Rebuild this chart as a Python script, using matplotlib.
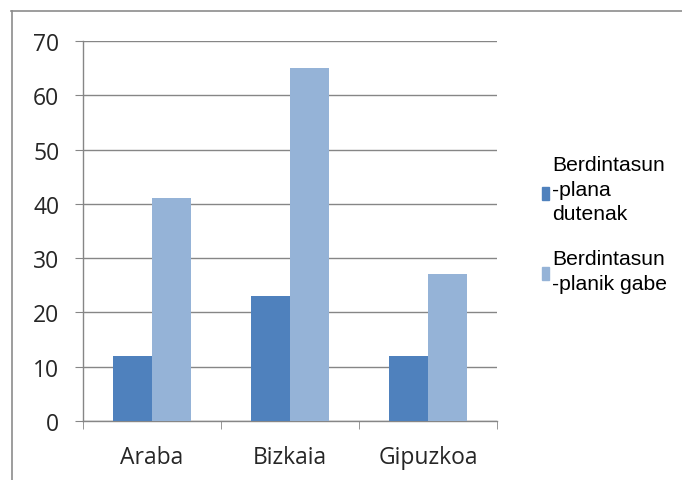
import matplotlib
matplotlib.use("Agg")
import matplotlib.pyplot as plt
from matplotlib.patches import Rectangle
from matplotlib.lines import Line2D
import numpy as np

categories = ["Araba", "Bizkaia", "Gipuzkoa"]
with_plan = [12, 23, 12]
without_plan = [41, 65, 27]
series_labels = ["Berdintasun\n-plana\ndutenak", "Berdintasun\n-planik gabe"]
yticks = [0, 10, 20, 30, 40, 50, 60, 70]

dark = "#4F81BD"
light = "#95B3D7"
axis_grey = "#868686"

fig = plt.figure(figsize=(6.82, 4.81), dpi=100)
fig.patch.set_facecolor("white")
ax = fig.add_axes([83 / 682, 1 - 422 / 481, (497 - 83) / 682, (422 - 42) / 481])

x = np.arange(len(categories))
w = 0.28
ax.bar(x - w / 2, with_plan, width=w, color=dark, zorder=3)
ax.bar(x + w / 2, without_plan, width=w, color=light, zorder=3)

ax.set_xlim(-0.5, len(categories) - 0.5)
ax.set_ylim(0, 70)
ax.set_yticks(yticks)
ax.set_xticks(x)
ax.set_xticklabels(categories)
ax.set_xticks(np.arange(len(categories) + 1) - 0.5, minor=True)

ax.grid(axis="y", color=axis_grey, linewidth=1.0, zorder=0)
for side in ("top", "right"):
    ax.spines[side].set_visible(False)
for side in ("left", "bottom"):
    ax.spines[side].set_color(axis_grey)
    ax.spines[side].set_linewidth(1.0)

ax.tick_params(axis="y", which="major", length=6, color=axis_grey, pad=11,
               labelsize=16.5, labelcolor="#262626")
ax.tick_params(axis="x", which="major", length=0, pad=17,
               labelsize=16.5, labelcolor="#262626")
ax.tick_params(axis="x", which="minor", length=6, color=axis_grey, direction="out")
for lab in ax.get_xticklabels() + ax.get_yticklabels():
    lab.set_fontfamily("Open Sans")

# outer frame
fig.add_artist(Line2D([11 / 682, 1], [1 - 12 / 481, 1 - 12 / 481], color="#8c8c8c",
                      linewidth=1.2, transform=fig.transFigure))
fig.add_artist(Line2D([12 / 682, 12 / 682], [0, 1 - 12 / 481], color="#8c8c8c",
                      linewidth=1.2, transform=fig.transFigure))

# legend: (label, colour, text centre y, swatch top y) in pixels from the top
legend_items = [(series_labels[0], dark, 190, 188), (series_labels[1], light, 272, 268)]
for text, col, ty, my in legend_items:
    fig.add_artist(Rectangle((542 / 682, 1 - (my + 13) / 481), 7 / 682, 13 / 481,
                             color=col, transform=fig.transFigure))
    fig.text(552 / 682, 1 - ty / 481, text, ha="left", va="center",
             fontsize=15.2, family="Liberation Sans", linespacing=1.38, color="black")

fig.savefig("out.png", dpi=100, facecolor="white")
